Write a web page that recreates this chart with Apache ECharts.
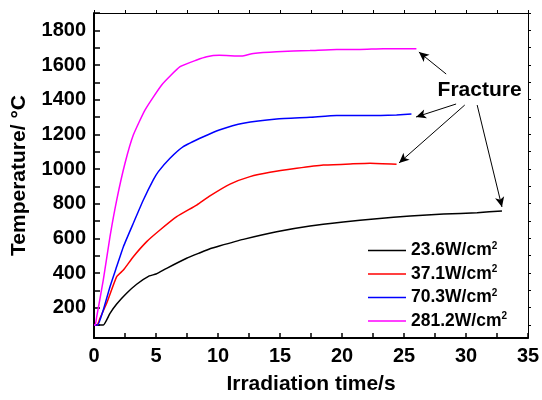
<!DOCTYPE html>
<html>
<head>
<meta charset="utf-8">
<script src="https://cdn.jsdelivr.net/npm/echarts@6/dist/echarts.min.js"></script>
<style>
  html, body { margin: 0; padding: 0; background: #fff; }
  #chart { width: 542px; height: 400px; }
</style>
</head>
<body>
<div id="chart"></div>
<script>
// values (time in s, temperature in °C)
const seriesNames = ['23.6W/cm', '37.1W/cm', '70.3W/cm', '281.2W/cm']
const seriesColors = ['#000000', '#ff0000', '#0000ff', '#ff00ff']

const t236 = [0, 0.75, 1.29, 1.83, 2.63, 3.44, 4.46, 5, 5.86, 7.47, 8.55, 9.35, 10.1, 12.04, 14.73, 17.42, 20.1, 22.8, 25.5, 28.2, 30.9, 32.9]
const T236 = [100, 100, 167, 221, 283, 335, 383, 394, 427, 485, 517, 540, 556, 594, 638, 671, 694, 713, 729, 740, 748, 758]

const t371 = [0, 0.25, 0.48, 1.02, 1.83, 2.37, 3.17, 4.25, 5.32, 6.67, 8.28, 9.35, 10.97, 12.58, 14.19, 16.35, 18.49, 20.65, 22.26, 24.4]
const T371 = [100, 100, 139, 225, 379, 417, 494, 581, 648, 725, 792, 845, 913, 956, 981, 1004, 1023, 1029, 1033, 1027]

const t703 = [0, 0.3, 0.75, 1.29, 1.83, 2.37, 3.17, 3.98, 4.78, 5.19, 6.13, 7.2, 8.82, 10.1, 12.04, 14.73, 17.42, 19.57, 22.26, 24.4, 25.6]
const T703 = [100, 100, 187, 321, 437, 552, 687, 821, 937, 985, 1062, 1129, 1186, 1225, 1264, 1289, 1298, 1308, 1308, 1312, 1317]

const t2812 = [0, 0.1, 0.22, 0.75, 1.29, 1.83, 2.5, 3.17, 4.11, 5.46, 6.94, 8.28, 9.09, 10.1, 11.9, 12.85, 14.73, 17.42, 19.57, 21.45, 23.33, 26.0]
const T2812 = [100, 100, 148, 360, 610, 821, 1033, 1196, 1340, 1485, 1590, 1629, 1648, 1656, 1652, 1667, 1677, 1683, 1690, 1690, 1694, 1694]

const xTickLabels = [0, 5, 10, 15, 20, 25, 30, 35]
const yTicks = [100, 200, 300, 400, 500, 600, 700, 800, 900, 1000, 1100, 1200, 1300, 1400, 1500, 1600, 1700, 1800, 1900]
const yTickLabels = [200, 400, 600, 800, 1000, 1200, 1400, 1600, 1800]

// "Fracture" annotation, in data units: arrow start -> arrow end
const fractureText = [31.1, 1456]
const fractureArrows = [
  [[28.4, 1548], [26.2, 1675]],
  [[29.2, 1375], [25.97, 1300]],
  [[29.9, 1369], [24.6, 1035]],
  [[30.9, 1369], [32.9, 781]]
]

const font = '"Liberation Sans", Arial, sans-serif'
const pairs = (xs, ys) => xs.map((x, i) => [x, ys[i]])
const allData = [pairs(t236, T236), pairs(t371, T371), pairs(t703, T703), pairs(t2812, T2812)]

const chart = echarts.init(document.getElementById('chart'))

const axisLine = { show: true, onZero: false, lineStyle: { color: '#000', width: 2 } }
const mirrorLine = { show: true, onZero: false, lineStyle: { color: '#000', width: 1 } }

chart.setOption({
  animation: false,
  backgroundColor: '#fff',
  textStyle: { fontFamily: font },
  grid: { left: 94, right: 14, top: 13, bottom: 62, outerBoundsMode: 'none', containLabel: false },
  legend: {
    data: seriesNames,
    orient: 'vertical',
    left: 363,
    top: 236,
    itemWidth: 38,
    itemHeight: 14,
    itemGap: 5,
    icon: 'path://M0,0 L38,0 L38,1.5 L0,1.5 Z',
    formatter: name => '{b|' + name + '}{s|2}',
    textStyle: {
      rich: {
        b: { fontFamily: font, fontSize: 17.5, fontWeight: 'bold', color: '#000', lineHeight: 18 },
        s: { fontFamily: font, fontSize: 10, fontWeight: 'bold', color: '#000', padding: [0, 0, 9, 0] }
      }
    }
  },
  xAxis: [{
    type: 'value',
    min: 0,
    max: 35,
    interval: 5,
    name: 'Irradiation time/s',
    nameLocation: 'middle',
    nameGap: 36,
    nameMoveOverlap: false,
    nameTextStyle: { fontFamily: font, fontSize: 21, fontWeight: 'bold', color: '#000' },
    axisLine: axisLine,
    axisTick: { show: true, inside: true, length: 5, lineStyle: { color: '#000', width: 1.5 } },
    minorTick: { show: true, splitNumber: 2, length: 5, lineStyle: { color: '#000', width: 1.5 } },
    axisLabel: {
      customValues: xTickLabels,
      formatter: v => String(v),
      margin: 8,
      fontFamily: font, fontSize: 20, fontWeight: 'bold', color: '#000'
    },
    splitLine: { show: false }
  }, {
    type: 'value',
    position: 'top',
    min: 0,
    max: 35,
    interval: 5,
    axisLine: mirrorLine,
    axisTick: { show: true, inside: false, length: 3, lineStyle: { color: '#000' } },
    minorTick: { show: true, splitNumber: 2, length: 3, lineStyle: { color: '#000' } },
    axisLabel: { show: false },
    splitLine: { show: false }
  }],
  yAxis: [{
    type: 'value',
    min: 25,
    max: 1900,
    name: 'Temperature/ °C',
    nameLocation: 'middle',
    nameGap: 64,
    nameMoveOverlap: false,
    nameTextStyle: { fontFamily: font, fontSize: 21, fontWeight: 'bold', color: '#000' },
    axisLine: axisLine,
    axisTick: { show: true, inside: true, length: 6, customValues: yTicks, lineStyle: { color: '#000', width: 1.5 } },
    axisLabel: {
      customValues: yTickLabels,
      formatter: v => String(v),
      margin: 8,
      fontFamily: font, fontSize: 20, fontWeight: 'bold', color: '#000'
    },
    splitLine: { show: false }
  }, {
    type: 'value',
    position: 'right',
    min: 25,
    max: 1900,
    axisLine: mirrorLine,
    axisTick: { show: true, inside: false, length: 3, customValues: yTicks, lineStyle: { color: '#000' } },
    axisLabel: { show: false },
    splitLine: { show: false }
  }],
  series: seriesNames.map((name, i) => ({
    name: name,
    type: 'line',
    data: allData[i],
    symbol: 'none',
    smooth: 0.15,
    color: seriesColors[i],
    lineStyle: { color: seriesColors[i], width: 1.5 },
    z: 3 + i
  })).concat([{
    name: 'fracture',
    type: 'line',
    data: [],
    silent: true,
    markLine: {
      silent: true,
      animation: false,
      symbol: ['none', 'arrow'],
      symbolSize: [7, 10],
      lineStyle: { color: '#000', width: 1, type: 'solid' },
      label: { show: false },
      data: fractureArrows.map(a => [{ coord: a[0] }, { coord: a[1] }])
    },
    markPoint: {
      silent: true,
      animation: false,
      symbol: 'circle',
      symbolSize: 1,
      itemStyle: { color: 'rgba(0,0,0,0)' },
      label: {
        show: true,
        position: 'inside',
        formatter: 'Fracture',
        fontFamily: font, fontSize: 21, fontWeight: 'bold', color: '#000'
      },
      data: [{ coord: fractureText }]
    }
  }])
})
</script>
</body>
</html>
